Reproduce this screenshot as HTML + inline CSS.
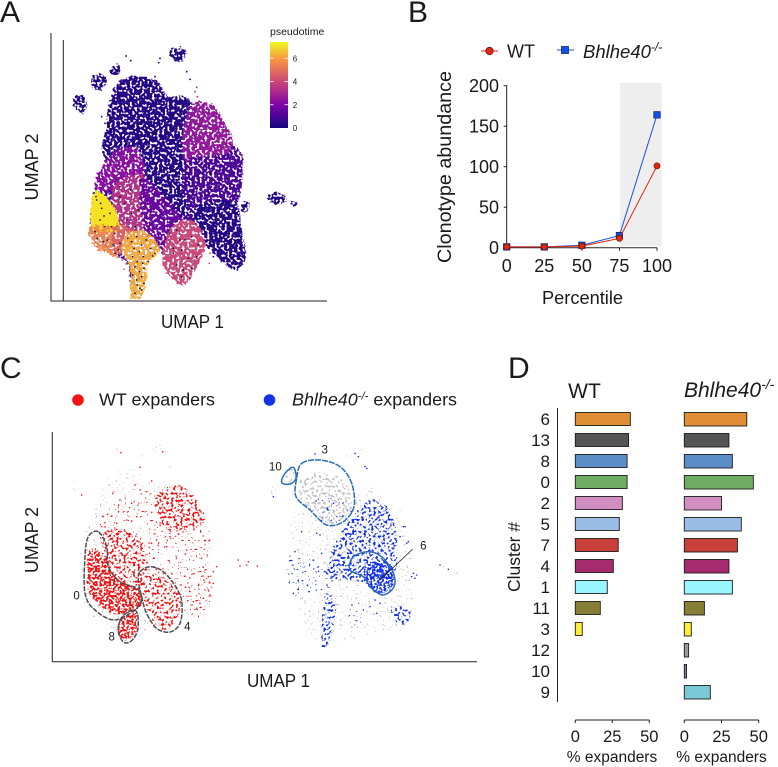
<!DOCTYPE html>
<html lang="en">
<head>
<meta charset="utf-8">
<title>Pseudotime, clonotype and expander figure</title>
<style>
html,body{margin:0;padding:0;background:#fff;width:778px;height:767px;overflow:hidden}
svg{display:block}
text{font-family:"Liberation Sans",sans-serif;fill:#1a1a1a}
.it{font-style:italic}
</style>
</head>
<body>
<svg id="fig" xmlns="http://www.w3.org/2000/svg" width="778" height="767" viewBox="0 0 778 767">
<defs>
<linearGradient id="plasma-gradient" x1="0" y1="1" x2="0" y2="0">
<stop offset="0" stop-color="#15067f"/><stop offset=".27" stop-color="#7e03a8"/><stop offset=".54" stop-color="#cc4778"/><stop offset=".8" stop-color="#f89540"/><stop offset="1" stop-color="#f0f921"/>
</linearGradient>
<filter id="fill-solid" x="-10%" y="-10%" width="120%" height="120%" color-interpolation-filters="sRGB">
<feTurbulence type="fractalNoise" baseFrequency="0.4" numOctaves="2" seed="5" result="n"/>
<feDisplacementMap in="SourceGraphic" in2="n" scale="5" xChannelSelector="R" yChannelSelector="G"/>
</filter>
<filter id="fill-dense" x="-10%" y="-10%" width="120%" height="120%" color-interpolation-filters="sRGB">
<feTurbulence type="fractalNoise" baseFrequency="0.4" numOctaves="1" seed="3" result="n"/>
<feDisplacementMap in="SourceGraphic" in2="n" scale="7" xChannelSelector="R" yChannelSelector="G" result="d"/>
<feColorMatrix in="n" type="matrix" values="0 0 0 0 0 0 0 0 0 0 0 0 0 0 0 10 0 0 0 -3.9" result="m"/>
<feComposite in="d" in2="m" operator="in"/>
</filter>
<filter id="fill-rich" x="-10%" y="-10%" width="120%" height="120%" color-interpolation-filters="sRGB">
<feTurbulence type="fractalNoise" baseFrequency="0.44" numOctaves="1" seed="14" result="n"/>
<feDisplacementMap in="SourceGraphic" in2="n" scale="7" xChannelSelector="R" yChannelSelector="G" result="d"/>
<feColorMatrix in="n" type="matrix" values="0 0 0 0 0 0 0 0 0 0 0 0 0 0 0 12 0 0 0 -5.4" result="m"/>
<feComposite in="d" in2="m" operator="in"/>
</filter>
<filter id="fill-medium" x="-10%" y="-10%" width="120%" height="120%" color-interpolation-filters="sRGB">
<feTurbulence type="fractalNoise" baseFrequency="0.42" numOctaves="1" seed="8" result="n"/>
<feDisplacementMap in="SourceGraphic" in2="n" scale="7" xChannelSelector="R" yChannelSelector="G" result="d"/>
<feColorMatrix in="n" type="matrix" values="0 0 0 0 0 0 0 0 0 0 0 0 0 0 0 12 0 0 0 -6.4" result="m"/>
<feComposite in="d" in2="m" operator="in"/>
</filter>
<filter id="fill-sparse" x="-10%" y="-10%" width="120%" height="120%" color-interpolation-filters="sRGB">
<feTurbulence type="fractalNoise" baseFrequency="0.45" numOctaves="1" seed="11" result="n"/>
<feDisplacementMap in="SourceGraphic" in2="n" scale="7" xChannelSelector="R" yChannelSelector="G" result="d"/>
<feColorMatrix in="n" type="matrix" values="0 0 0 0 0 0 0 0 0 0 0 0 0 0 0 18 0 0 0 -11.8" result="m"/>
<feComposite in="d" in2="m" operator="in"/>
</filter>
</defs>

<rect width="778" height="767" fill="#fff"/>

<!-- Panel A -->
<g>
<text x="0" y="22" font-size="30">A</text>
<g id="a-regions"></g>
<g id="a-points"></g>
<line x1="51" y1="33" x2="51" y2="301.5" stroke="#222" stroke-width="1"/>
<line x1="63.3" y1="40" x2="63.3" y2="301.5" stroke="#222" stroke-width="1"/>
<line x1="51" y1="301" x2="327" y2="301" stroke="#222" stroke-width="1"/>
<text transform="translate(38,167) rotate(-90)" text-anchor="middle" font-size="18" textLength="67" lengthAdjust="spacingAndGlyphs">UMAP 2</text>
<text x="192.500" y="328" text-anchor="middle" font-size="18" textLength="63" lengthAdjust="spacingAndGlyphs">UMAP 1</text>
<g>
<text x="270" y="35" font-size="10.500">pseudotime</text>
<rect x="270" y="42" width="18" height="86" fill="url(#plasma-gradient)"/>
<g id="a-legend-ticks"></g>
</g>
</g>

<!-- Panel B -->
<g>
<text x="408" y="22" font-size="30">B</text>
<g>
<line x1="481" y1="51" x2="498" y2="51" stroke="#e8260f" stroke-width="1"/>
<circle cx="489.500" cy="51" r="3.700" fill="#e8260f" stroke="#5a1208" stroke-width=".8"/>
<text x="507" y="57.500" font-size="18">WT</text>
<line x1="557" y1="50" x2="574" y2="50" stroke="#1c50e0" stroke-width="1"/>
<rect x="561.500" y="46.500" width="7" height="7" fill="#1450e6" stroke="#0c2a70" stroke-width=".8"/>
<text class="it" x="583" y="58" font-size="18.500">Bhlhe40<tspan font-size="12" dy="-7">-/-</tspan></text>
</g>
<rect x="620" y="83" width="41.700" height="163" fill="#eeeeee"/>
<g id="b-axes"></g>
<g id="b-series"></g>
<text transform="translate(451,167) rotate(-90)" text-anchor="middle" font-size="19.500" textLength="192" lengthAdjust="spacingAndGlyphs">Clonotype abundance</text>
<text x="582.500" y="304" text-anchor="middle" font-size="18" textLength="81" lengthAdjust="spacingAndGlyphs">Percentile</text>
</g>

<!-- Panel C -->
<g>
<text x="0" y="378" font-size="30">C</text>
<g>
<circle cx="78" cy="400" r="5.800" fill="#f01414"/>
<text x="99" y="405.500" font-size="17.500" textLength="116" lengthAdjust="spacingAndGlyphs">WT expanders</text>
<circle cx="269.500" cy="400" r="5.800" fill="#1432e6"/>
<text x="292" y="405.500" font-size="17.500" textLength="165" lengthAdjust="spacingAndGlyphs"><tspan class="it">Bhlhe40</tspan><tspan class="it" font-size="11" dy="-6">-/-</tspan><tspan dy="6"> expanders</tspan></text>
</g>
<g id="c-regions"></g>
<g id="c-points"></g>
<g id="c-outlines"></g>
<line x1="52.300" y1="432" x2="52.300" y2="662" stroke="#222" stroke-width="1"/>
<line x1="52" y1="661.800" x2="477" y2="661.800" stroke="#222" stroke-width="1"/>
<text transform="translate(38,540) rotate(-90)" text-anchor="middle" font-size="18" textLength="66" lengthAdjust="spacingAndGlyphs">UMAP 2</text>
<text x="278.500" y="687" text-anchor="middle" font-size="18" textLength="63" lengthAdjust="spacingAndGlyphs">UMAP 1</text>
</g>

<!-- Panel D -->
<g>
<text x="508" y="378" font-size="30">D</text>
<text x="584.500" y="398" text-anchor="middle" font-size="21">WT</text>
<text class="it" x="684" y="397" font-size="21">Bhlhe40<tspan font-size="14" dy="-8">-/-</tspan></text>
<line x1="557.500" y1="408" x2="557.500" y2="702" stroke="#222" stroke-width="1"/>
<text transform="translate(520,557) rotate(-90)" text-anchor="middle" font-size="17.500">Cluster #</text>
<g id="d-chart"></g>
<text x="612" y="762" text-anchor="middle" font-size="15.500" fill="#333">% expanders</text>
<text x="721.500" y="762" text-anchor="middle" font-size="15.500" fill="#333">% expanders</text>
</g>
</svg>

<script>
/* ---------- Panel A data (UMAP space) ---------- */
const pseudotimeStops = [0, 2, 4, 6, 7.4];
const pseudotimeColors = ['#15067f', '#7e03a8', '#cc4778', '#f89540', '#f4f01e'];
const pseudotimeTicks = [0, 2, 4, 6];
const clusterAPseudotime = [0.9, 0.25, 0.2, 0.2, 0.2, 0.2, 0.2, 0.2, 0.2, 0.2, 2.6, 1.0, 0.2, 2.3, 3.4, 1.6, 4.1, 7.2, 5.6, 4.7, 6.4];
const clusterADensity = ['dense', 'dense', 'dense', 'dense', 'dense', 'dense', 'dense', 'dense', 'dense', 'dense', 'dense', 'dense', 'dense', 'dense', 'dense', 'dense', 'dense', 'solid', 'dense', 'dense', 'dense'];
const clusterAOutlines = [
  [[320,380],[345,260],[400,228],[465,240],[510,290],[580,312],[640,318],[680,385],[700,430],[722,460],[725,540],[700,612],[722,680],[735,770],[702,808],[645,760],[610,740],[590,800],[550,852],[510,822],[490,770],[476,750],[442,790],[425,885],[395,885],[385,800],[340,760],[280,722],[272,680],[277,610],[295,530],[318,470]],
  [[318,395],[365,405],[500,295],[585,320],[575,475],[572,610],[500,700],[440,570],[422,470],[316,475]],
  [[350,260],[400,228],[460,238],[497,285],[520,330],[502,405],[440,425],[360,428],[322,378],[330,310]],
  [[222,295],[245,285],[262,312],[248,340],[225,325]],
  [[275,235],[305,222],[322,245],[300,270],[278,262]],
  [[335,200],[358,195],[362,215],[345,228],[332,218]],
  [[508,155],[535,142],[560,155],[545,185],[520,178]],
  [[725,610],[745,602],[748,620],[735,640],[724,628]],
  [[805,590],[832,575],[862,600],[840,612],[815,610]],
  [[875,605],[893,606],[888,618],[876,614]],
  [[575,315],[640,316],[675,370],[700,425],[665,480],[570,497],[548,425]],
  [[565,485],[660,465],[724,456],[727,540],[704,618],[600,628],[552,585]],
  [[585,620],[702,606],[724,680],[738,772],[704,810],[645,762],[605,705]],
  [[294,522],[350,452],[416,446],[436,540],[370,570],[292,570]],
  [[345,555],[432,525],[452,640],[448,706],[345,708],[340,620]],
  [[425,535],[505,600],[552,680],[488,750],[436,706]],
  [[518,678],[582,664],[616,730],[592,802],[550,855],[508,824],[488,772]],
  [[290,572],[332,606],[360,682],[320,700],[277,684],[274,610]],
  [[270,680],[354,686],[352,766],[300,750],[278,726]],
  [[346,676],[404,698],[376,756],[341,756]],
  [[382,700],[442,696],[480,750],[444,792],[442,834],[427,888],[393,888],[392,802],[366,752]]
];
const scatterAX = [378,392,480,476,560,570,590,585,592,305,315,330,640,630,612,628,352,290,300,378,372,465];
const scatterAY = [168,182,175,188,215,238,262,275,290,350,370,395,770,760,752,790,772,740,750,792,808,230];
const scatterAT = [0,0,0,0,0,0,3,3,3,0,0,0,0,4,4,4,5,5,5,5,5,0];
const blackDotsX = [290,305,330,300,315,345,285,292,310,340,355,288,302,322,345,360,335,312,383,395,410,425,438,452,465,402,418,430,445,458,398,412,428,405,418,432,398,410,425,412,420,432,405,425,510,530,555,575,595,520,545,565,590,530,550,575,520,545,570,540,360,375,395,415,440,380,405,430,360,392,420,655,640,670,380,410,520,460,600,630];
const blackDotsY = [600,625,640,660,680,700,695,715,725,735,750,590,610,720,760,730,680,648,715,725,710,735,720,745,760,745,755,770,785,768,770,785,790,800,815,805,825,840,830,855,865,850,880,870,700,690,720,710,735,760,750,775,770,795,810,805,745,830,835,720,590,610,640,630,655,660,680,620,560,570,540,640,660,630,350,370,345,400,380,520];

/* ---------- Panel B data ---------- */
const percentiles = [0, 25, 50, 75, 100];
const wtAbundance = [1, 1, 2, 11.500, 101];
const koAbundance = [1, 1, 3, 15, 164];
const abundanceTicks = [0, 50, 100, 150, 200];

/* ---------- Panel C data (UMAP space) ---------- */
const regionCColors = ['#c9c9c9','#d6d6d6','#c9c9c9','#c9c9c9','#f01414','#f01414','#f01414','#f01414','#f01414','#f01414','#c9c9c9','#c4c4c4','#c9c9c9','#c9c9c9','#1432e6','#1432e6','#1432e6','#1432e6','#1432e6','#1432e6','#1432e6','#1432e6'];
const regionCDensity = ['sparse','sparse','sparse','sparse','sparse','medium','medium','rich','rich','medium','sparse','medium','sparse','medium','medium','rich','medium','medium','sparse','medium','sparse','sparse'];
const regionCOutlines = [
  [[290,470],[330,380],[400,350],[440,400],[560,410],[622,500],[642,640],[632,795],[560,805],[400,860],[270,780],[250,600]],
  [[350,370],[400,355],[435,385],[400,410],[355,405]],
  [[222,400],[240,395],[240,425],[225,425]],
  [[460,295],[485,280],[500,290],[485,310]],
  [[310,500],[440,430],[612,500],[636,640],[630,785],[560,785],[440,650],[320,610]],
  [[320,540],[420,560],[445,680],[415,720],[340,690],[318,620]],
  [[470,430],[550,410],[602,470],[612,515],[520,545],[480,500]],
  [[272,600],[320,620],[345,680],[420,725],[422,772],[350,792],[280,745],[262,680]],
  [[360,812],[410,790],[407,850],[375,872],[358,850]],
  [[420,670],[490,680],[542,740],[532,810],[490,838],[450,795],[430,720]],
  [[880,500],[1000,500],[1120,420],[1222,550],[1242,700],[1225,825],[1100,855],[975,885],[900,760]],
  [[900,400],[960,368],[1040,400],[1056,480],[990,522],[920,470]],
  [[815,415],[835,405],[840,430],[822,450]],
  [[860,365],[885,355],[888,385],[865,395]],
  [[1030,540],[1120,450],[1180,500],[1195,620],[1160,690],[1000,685],[985,650]],
  [[1100,650],[1170,640],[1182,700],[1140,732],[1098,692]],
  [[985,640],[1060,615],[1085,680],[1000,685]],
  [[1178,768],[1232,778],[1222,822],[1190,812]],
  [[950,440],[1040,450],[1060,500],[980,525]],
  [[978,740],[1012,760],[992,872],[968,884]],
  [[1048,780],[1092,750],[1082,830],[1060,825]],
  [[880,610],[1000,680],[965,725],[880,732]]
];
const redX = [363,488,420,245,455,405,338,715,745,740,772,720,650,640,615,640,625,610,600,630,625,612,590,580,605,560,510,470,455,500,530,480,540,590,610,575,360,395,420,440,410,380,350,335,310,305];
const redY = [308,305,352,435,393,405,430,630,635,645,648,648,650,665,660,700,720,745,760,735,680,690,775,755,625,600,560,570,580,590,520,525,440,480,490,450,450,460,420,425,500,510,520,540,500,530];
const blueX = [1065,1075,1095,1100,945,820,1345,1320,1240,1245,1235,1250,1225,1215,1220,885,880,905,950,960,1000,985,1210,1200,1190,1140,1130,1120,1145,1060,1050,1010,1000,965,940,1090,1125,1170,1110];
const blueY = [310,320,350,355,312,440,658,645,670,685,680,675,575,530,580,605,730,545,550,555,460,480,530,560,640,760,790,450,470,540,560,590,610,610,630,780,750,720,770];
const grayX = [1330,1370,735,350,425,510,1040,1085,1115,1200];
const grayY = [650,670,635,298,318,350,318,300,415,480];
const outlineWt0 = [[295,545],[265,560],[255,620],[255,730],[285,780],[345,810],[410,775],[425,745],[410,715],[360,695],[325,650],[320,590]];
const outlineWt8 = [[362,808],[355,845],[372,877],[397,870],[414,835],[410,785],[385,785]];
const outlineWt4 = [[420,665],[450,650],[490,665],[530,715],[546,760],[540,820],[510,846],[470,835],[440,790],[425,740],[415,690]];
const outlineKo3 = [[905,340],[960,330],[1020,350],[1055,400],[1062,470],[1030,515],[980,525],[930,480],[888,440],[890,385]];
const outlineKo10 = [[880,352],[855,370],[845,398],[870,402],[888,385]];
const outlineKo6 = [[1060,620],[1110,605],[1150,625],[1180,670],[1182,710],[1150,735],[1115,715],[1090,680],[1050,660]];
const clusterLabelText = ['0','8','4','3','10','6'];
const clusterLabelX = [230,335,562,974,826,1270];
const clusterLabelY = [737,860,830,298,350,587];

/* ---------- Panel D data ---------- */
const clusterNames = ['6','13','8','0','2','5','7','4','1','11','3','12','10','9'];
const wtExpanders = [37.200,36,35,35,31.800,29.700,29,25.700,21.600,16.900,4.700,0,0,0];
const koExpanders = [42,30,32.300,46.400,25,38.300,35.700,30,32.300,13.500,4.700,2.900,1.500,17.500];
const clusterColors = ['#e08e36','#555555','#5b8ec6','#6fae62','#d08fc0','#99bde6','#c9403a','#a52a6e','#99f6ff','#857f35','#fdec3a','#9a9a9a','#7f7f9a','#79c8d6'];
const expanderTicks = [0, 25, 50];

/* ---------- Helpers ---------- */
const NS = 'http://www.w3.org/2000/svg';
function make(tag, parent) {
  const el = document.createElementNS(NS, tag);
  parent.appendChild(el);
  return el;
}
function linear(d0, d1, r0, r1) {
  return v => r0 + (v - d0) * (r1 - r0) / (d1 - d0);
}
function smoothPath(points, sx, sy) {
  const n = points.length;
  let d = 'M' + sx(points[0][0]).toFixed(1) + ' ' + sy(points[0][1]).toFixed(1);
  for (let i = 0; i < n; i++) {
    const p0 = points[(i - 1 + n) % n], p1 = points[i], p2 = points[(i + 1) % n], p3 = points[(i + 2) % n];
    const c1x = p1[0] + (p2[0] - p0[0]) / 6, c1y = p1[1] + (p2[1] - p0[1]) / 6;
    const c2x = p2[0] - (p3[0] - p1[0]) / 6, c2y = p2[1] - (p3[1] - p1[1]) / 6;
    d += 'C' + sx(c1x).toFixed(1) + ' ' + sy(c1y).toFixed(1) + ' ' + sx(c2x).toFixed(1) + ' ' + sy(c2y).toFixed(1) + ' ' + sx(p2[0]).toFixed(1) + ' ' + sy(p2[1]).toFixed(1);
  }
  return d + 'Z';
}
function hex(c) { return [1, 3, 5].map(i => parseInt(c.substr(i, 2), 16)); }
function plasma(t) {
  for (let i = 1; i < pseudotimeStops.length; i++) {
    if (t <= pseudotimeStops[i]) {
      const f = (t - pseudotimeStops[i - 1]) / (pseudotimeStops[i] - pseudotimeStops[i - 1]);
      const a = hex(pseudotimeColors[i - 1]), b = hex(pseudotimeColors[i]);
      return 'rgb(' + a.map((v, k) => Math.round(v + (b[k] - v) * f)).join(',') + ')';
    }
  }
  return pseudotimeColors[pseudotimeColors.length - 1];
}

/* ---------- Panel A ---------- */
const ax = linear(153, 981, 51, 327);
const ay = linear(903, 99, 301, 33);
const aRegions = document.getElementById('a-regions');
clusterAOutlines.forEach((outline, i) => {
  const el = make('path', aRegions);
  
  
  el.setAttribute('d', smoothPath(outline, ax, ay));
  el.setAttribute('fill', plasma(clusterAPseudotime[i]));
  el.setAttribute('filter', 'url(#fill-' + clusterADensity[i] + ')');
});
const aPoints = document.getElementById('a-points');
scatterAX.forEach((x, i) => {
  const el = make('rect', aPoints);
  
  
  el.setAttribute('x', ax(x) - 0.8);
  el.setAttribute('y', ay(scatterAY[i]) - 0.8);
  el.setAttribute('width', 1.6);
  el.setAttribute('height', 1.6);
  el.setAttribute('fill', plasma(scatterAT[i]));
});
blackDotsX.forEach((x, i) => {
  const el = make('circle', aPoints);
  
  
  el.setAttribute('cx', ax(x));
  el.setAttribute('cy', ay(blackDotsY[i]));
  el.setAttribute('r', 0.85);
  el.setAttribute('fill', '#111');
});
const legendScale = linear(0, 7.4, 128, 42);
const aTicks = document.getElementById('a-legend-ticks');
pseudotimeTicks.forEach(t => {
  const y = legendScale(t);
  if (t > 0) {
    const left = make('line', aTicks);
    
    
    left.setAttribute('x1', 270); left.setAttribute('x2', 273.5);
    left.setAttribute('y1', y); left.setAttribute('y2', y);
    left.setAttribute('stroke', '#fff');
    left.setAttribute('stroke-width', 0.8);
    const right = make('line', aTicks);
    
    
    right.setAttribute('x1', 284.5); right.setAttribute('x2', 288);
    right.setAttribute('y1', y); right.setAttribute('y2', y);
    right.setAttribute('stroke', '#fff');
    right.setAttribute('stroke-width', 0.8);
  }
  const label = make('text', aTicks);
  
  
  label.setAttribute('x', 295);
  label.setAttribute('y', y + 3);
  label.setAttribute('text-anchor', 'middle');
  label.setAttribute('font-size', 8);
  label.textContent = t;
});

/* ---------- Panel B ---------- */
const bx = linear(0, 100, 506.7, 657);
const by = linear(0, 200, 247.7, 85.7);
const bAxes = document.getElementById('b-axes');
const bYAxis = make('line', bAxes);


bYAxis.setAttribute('x1', bx(0)); bYAxis.setAttribute('x2', bx(0));
bYAxis.setAttribute('y1', by(200) - 0.5); bYAxis.setAttribute('y2', by(0) + 0.5);
bYAxis.setAttribute('stroke', '#222');
const bXAxis = make('line', bAxes);


bXAxis.setAttribute('x1', bx(0)); bXAxis.setAttribute('x2', bx(100));
bXAxis.setAttribute('y1', by(0)); bXAxis.setAttribute('y2', by(0));
bXAxis.setAttribute('stroke', '#222');
abundanceTicks.forEach(t => {
  const tick = make('line', bAxes);
  
  
  tick.setAttribute('x1', bx(0) - 3); tick.setAttribute('x2', bx(0));
  tick.setAttribute('y1', by(t)); tick.setAttribute('y2', by(t));
  tick.setAttribute('stroke', '#222');
  const label = make('text', bAxes);
  
  
  label.setAttribute('x', 499);
  label.setAttribute('y', by(t) + 6.5);
  label.setAttribute('text-anchor', 'end');
  label.setAttribute('font-size', 18);
  label.textContent = t;
});
percentiles.forEach(t => {
  const tick = make('line', bAxes);
  
  
  tick.setAttribute('x1', bx(t)); tick.setAttribute('x2', bx(t));
  tick.setAttribute('y1', by(0)); tick.setAttribute('y2', by(0) + 3);
  tick.setAttribute('stroke', '#222');
  const label = make('text', bAxes);
  
  
  label.setAttribute('x', bx(t));
  label.setAttribute('y', 272);
  label.setAttribute('text-anchor', 'middle');
  label.setAttribute('font-size', 18);
  label.textContent = t;
});
const bSeries = document.getElementById('b-series');
const koLine = make('polyline', bSeries);


koLine.setAttribute('points', percentiles.map((p, i) => bx(p) + ',' + by(koAbundance[i])).join(' '));
koLine.setAttribute('fill', 'none');
koLine.setAttribute('stroke', '#1c50e0');
koLine.setAttribute('stroke-width', 1);
percentiles.forEach((p, i) => {
  const el = make('rect', bSeries);
  
  
  el.setAttribute('x', bx(p) - 3.2);
  el.setAttribute('y', by(koAbundance[i]) - 3.2);
  el.setAttribute('width', 6.4);
  el.setAttribute('height', 6.4);
  el.setAttribute('fill', '#1450e6');
  el.setAttribute('stroke', '#0c2a70');
  el.setAttribute('stroke-width', 0.8);
});
const wtLine = make('polyline', bSeries);


wtLine.setAttribute('points', percentiles.map((p, i) => bx(p) + ',' + by(wtAbundance[i])).join(' '));
wtLine.setAttribute('fill', 'none');
wtLine.setAttribute('stroke', '#e8260f');
wtLine.setAttribute('stroke-width', 1);
percentiles.forEach((p, i) => {
  const el = make('circle', bSeries);
  
  
  el.setAttribute('cx', bx(p));
  el.setAttribute('cy', by(wtAbundance[i]));
  el.setAttribute('r', 3);
  el.setAttribute('fill', '#e8260f');
  el.setAttribute('stroke', '#6a1a0c');
  el.setAttribute('stroke-width', 0.8);
});

/* ---------- Panel C ---------- */
const cx = linear(157, 1430, 52.3, 476.7);
const cy = linear(935, 247, 661.7, 432.3);
const cRegions = document.getElementById('c-regions');
regionCOutlines.forEach((outline, i) => {
  const el = make('path', cRegions);
  
  
  el.setAttribute('d', smoothPath(outline, cx, cy));
  el.setAttribute('fill', regionCColors[i]);
  el.setAttribute('filter', 'url(#fill-' + regionCDensity[i] + ')');
});
const cPoints = document.getElementById('c-points');
grayX.forEach((x, i) => {
  const el = make('circle', cPoints);
  
  
  el.setAttribute('cx', cx(x));
  el.setAttribute('cy', cy(grayY[i]));
  el.setAttribute('r', 0.7);
  el.setAttribute('fill', '#c9c9c9');
});
redX.forEach((x, i) => {
  const el = make('circle', cPoints);
  
  
  el.setAttribute('cx', cx(x));
  el.setAttribute('cy', cy(redY[i]));
  el.setAttribute('r', 0.8);
  el.setAttribute('fill', '#f01414');
});
blueX.forEach((x, i) => {
  const el = make('circle', cPoints);
  
  
  el.setAttribute('cx', cx(x));
  el.setAttribute('cy', cy(blueY[i]));
  el.setAttribute('r', 0.8);
  el.setAttribute('fill', '#1432e6');
});
const cOutlines = document.getElementById('c-outlines');
const wtRings = [outlineWt0, outlineWt8, outlineWt4];
wtRings.forEach(ring => {
  const el = make('path', cOutlines);
  
  
  el.setAttribute('d', smoothPath(ring, cx, cy));
  el.setAttribute('fill', 'none');
  el.setAttribute('stroke', '#4a4f52');
  el.setAttribute('stroke-width', 1.500);
  el.setAttribute('stroke-dasharray', '5 1.2');
});
const koRings = [outlineKo3, outlineKo10, outlineKo6];
koRings.forEach((ring, i) => {
  const el = make('path', cOutlines);
  
  
  el.setAttribute('d', smoothPath(ring, cx, cy));
  el.setAttribute('fill', 'none');
  el.setAttribute('stroke', '#2a6db8');
  el.setAttribute('stroke-width', 1.500);
  if (i === 0) el.setAttribute('stroke-dasharray', '6 1');
});
const leader = make('line', cOutlines);


leader.setAttribute('x1', cx(1238)); leader.setAttribute('y1', cy(597));
leader.setAttribute('x2', cx(1140)); leader.setAttribute('y2', cy(690));
leader.setAttribute('stroke', '#222');
leader.setAttribute('stroke-width', 0.8);
clusterLabelText.forEach((t, i) => {
  const el = make('text', cOutlines);
  
  
  el.setAttribute('x', cx(clusterLabelX[i]));
  el.setAttribute('y', cy(clusterLabelY[i]) + 4);
  el.setAttribute('text-anchor', 'middle');
  el.setAttribute('font-size', 11.500);
  el.textContent = t;
});

/* ---------- Panel D ---------- */
const dy = linear(0, 13, 419, 692);
const dWtX = linear(0, 50, 575.3, 649.3);
const dKoX = linear(0, 50, 684.3, 758.7);
const dChart = document.getElementById('d-chart');
clusterNames.forEach((name, i) => {
  const label = make('text', dChart);
  
  
  label.setAttribute('x', 550);
  label.setAttribute('y', dy(i) + 6);
  label.setAttribute('text-anchor', 'end');
  label.setAttribute('font-size', 17);
  label.textContent = name;
  if (wtExpanders[i] > 0) {
    const bar = make('rect', dChart);
    
    
    bar.setAttribute('x', dWtX(0));
    bar.setAttribute('y', dy(i) - 6.500);
    bar.setAttribute('width', dWtX(wtExpanders[i]) - dWtX(0));
    bar.setAttribute('height', 13);
    bar.setAttribute('fill', clusterColors[i]);
    bar.setAttribute('stroke', '#1c1c1c');
    bar.setAttribute('stroke-width', 0.9);
  }
  if (koExpanders[i] > 0) {
    const bar = make('rect', dChart);
    
    
    bar.setAttribute('x', dKoX(0));
    bar.setAttribute('y', dy(i) - 6.500);
    bar.setAttribute('width', dKoX(koExpanders[i]) - dKoX(0));
    bar.setAttribute('height', 13.500);
    bar.setAttribute('fill', clusterColors[i]);
    bar.setAttribute('stroke', '#1c1c1c');
    bar.setAttribute('stroke-width', 0.9);
  }
});
const dScales = [dWtX, dKoX];
dScales.forEach(scale => {
  const axis = make('line', dChart);
  
  
  axis.setAttribute('x1', scale(0)); axis.setAttribute('x2', scale(50));
  axis.setAttribute('y1', 720); axis.setAttribute('y2', 720);
  axis.setAttribute('stroke', '#222');
  expanderTicks.forEach(t => {
    const tick = make('line', dChart);
    
    
    tick.setAttribute('x1', scale(t)); tick.setAttribute('x2', scale(t));
    tick.setAttribute('y1', 720); tick.setAttribute('y2', 723);
    tick.setAttribute('stroke', '#222');
    const label = make('text', dChart);
    
    
    label.setAttribute('x', scale(t));
    label.setAttribute('y', 742);
    label.setAttribute('text-anchor', 'middle');
    label.setAttribute('font-size', 16.500);
    label.textContent = t;
  });
});
</script>
</body>
</html>
